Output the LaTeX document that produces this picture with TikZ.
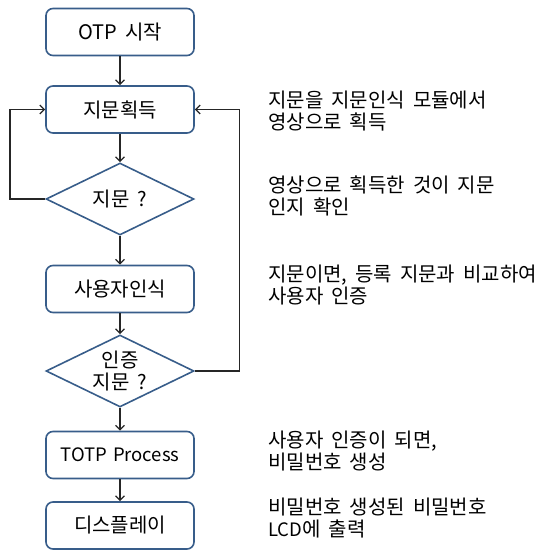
\documentclass[tikz,border=0pt]{standalone}
\usepackage{fontspec}
\setmainfont{Noto Sans CJK KR}
\usetikzlibrary{shapes.geometric,arrows.meta}
\definecolor{boxblue}{RGB}{56,93,138}
\newcommand\mywidespace{\spaceskip=8pt plus 1pt\relax}
\newcommand\mylatinspace{\spaceskip=6pt plus 1pt\relax}
\begin{document}
\begin{tikzpicture}[x=1pt,y=-1pt,
  txt/.style={font={\fontsize{20}{22.5}\selectfont\mywidespace}},
  box/.style={txt, draw=boxblue, line width=1.6pt, rounded corners=7pt, fill=white,
    minimum width=148pt, minimum height=47pt, inner sep=0pt},
  decision/.style={txt, draw=boxblue, line width=1.6pt, diamond, fill=white,
    minimum width=148pt, minimum height=72pt, inner sep=0pt, shape aspect=2.05, align=center},
  note/.style={txt, anchor=west, align=left, inner sep=0pt},
  arr/.style={draw=black!85, line width=1.3pt, -{Straight Barb[length=4.5pt,width=9pt]}}
]
\useasboundingbox (0,0) rectangle (539,552);
\node[box] (start) at (120,32) {OTP 시작};
\node[box] (acq) at (120,109.5) {지문획득};
\node[decision] (d1) at (120,199) {지문 ?};
\node[box] (user) at (120,289) {사용자인식};
\node[decision] (d2) at (120,371) {인증\\지문 ?};
\node[box, font={\fontsize{18.5}{22}\selectfont\mylatinspace}] (totp) at (120,455) {TOTP Process};
\node[box] (disp) at (120,525.5) {디스플레이};

\draw[arr] (start) -- (acq);
\draw[arr] (acq) -- (d1);
\draw[arr] (d1) -- (user);
\draw[arr] (user) -- (d2);
\draw[arr] (d2) -- (totp);
\draw[arr] (totp) -- (disp);
\draw[arr] (d1.west) -- ++(-35.3,0) |- (acq.west);
\draw[arr] (d2.east) -- ++(45,0) |- (acq.east);

\node[note] (n1) at (268,111.2) {지문을 지문인식 모듈에서\\영상으로 획득};
\node[note] (n2) at (268,195.8) {영상으로 획득한 것이 지문\\인지 확인};
\node[note] (n3) at (268,285) {지문이면, 등록 지문과 비교하여\\사용자 인증};
\node[note] (n4) at (268,451.2) {사용자 인증이 되면,\\비밀번호 생성};
\node[note] (n5) at (268,517.8) {비밀번호 생성된 비밀번호\\{\fontsize{18.5}{22}\selectfont LCD}에 출력};
\end{tikzpicture}
\end{document}
